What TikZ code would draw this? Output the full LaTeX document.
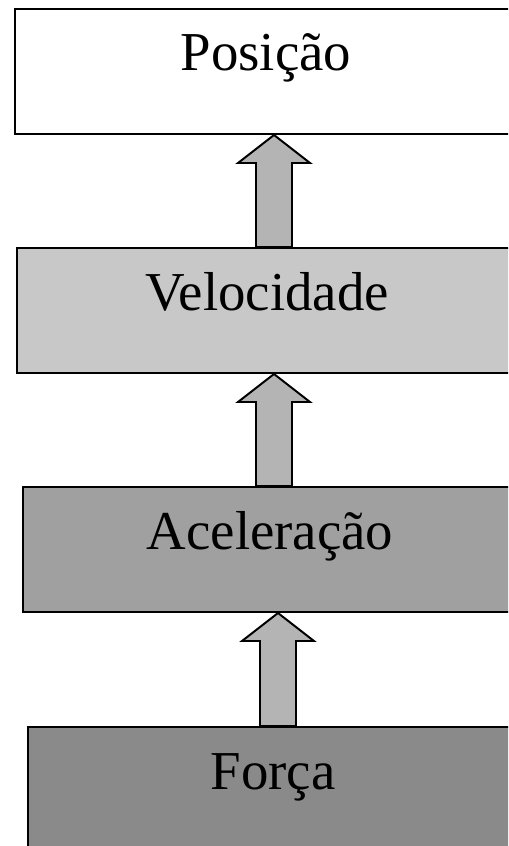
\documentclass[tikz,border=0pt]{standalone}
\usepackage{fontspec}
\setmainfont{Liberation Serif}
\usetikzlibrary{
  calc,        % coordinate arithmetic
  positioning  % relative placement
}
\definecolor{velgray}{RGB}{200,200,200}
\definecolor{acegray}{RGB}{160,160,160}
\definecolor{forgray}{RGB}{138,138,138}
\definecolor{arrgray}{RGB}{180,180,180}

% fat block arrow from the top of #1 up to the bottom of #2, axis through #3
\newcommand\fatarrow[3]{%
  \draw[fatarrow] ($(#1.north -| #3)+(-18,0)$)
    -- ($(#2.south -| #3)+(-18,28)$) -- ($(#2.south -| #3)+(-36,28)$)
    -- (#2.south -| #3)
    -- ($(#2.south -| #3)+(36,28)$) -- ($(#2.south -| #3)+(18,28)$)
    -- ($(#1.north -| #3)+(18,0)$) -- cycle;}

\begin{document}
\begin{tikzpicture}[x=0.025cm, y=-0.025cm,
  box/.style={draw, line width=1.4pt, rectangle, inner sep=0pt,
    anchor=north west, text height=1.55cm, text depth=1.575cm,
    font=\fontsize{39}{41}\selectfont},
  fatarrow/.style={draw, line width=1.4pt, fill=arrgray, line join=miter}]
  \clip (0,0) rectangle (508,846);

  % the four levels
  \node[box, fill=white,   minimum width=12.55cm] (pos) at (14,8)   {Posição};
  \node[box, fill=velgray, minimum width=12.5cm]  (vel) at (16,247) {Velocidade};
  \node[box, fill=acegray, minimum width=12.35cm] (ace) at (22,486) {Aceleração};
  \node[box, fill=forgray, minimum width=12.25cm] (for) at (27,726) {Força};

  % arrow axes
  \coordinate (ax1) at (274,0);
  \coordinate (ax2) at (274,0);
  \coordinate (ax3) at (278,0);

  \fatarrow{vel}{pos}{ax1}
  \fatarrow{ace}{vel}{ax2}
  \fatarrow{for}{ace}{ax3}
\end{tikzpicture}
\end{document}
